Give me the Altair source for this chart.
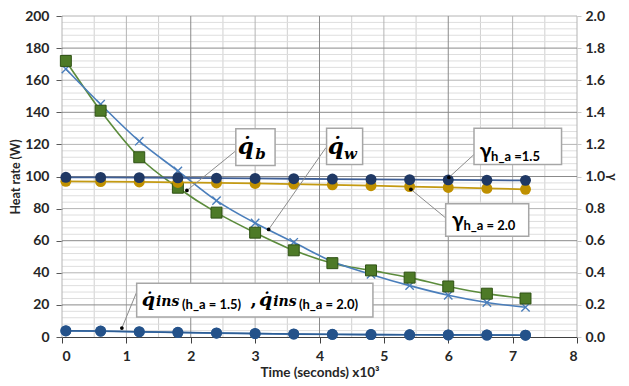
import altair as alt
import pandas as pd

# ---------------- data ----------------
time_k = [0.06, 0.6, 1.2, 1.8, 2.4, 3.0, 3.6, 4.2, 4.8, 5.4, 6.0, 6.6, 7.2]
q_b = [172, 141, 112, 93, 77.5, 65, 54, 46, 41.5, 37, 31.5, 27, 24]
q_w = [167, 145, 122, 103.5, 85, 71, 59, 47, 39, 32, 26, 21.5, 18.5]
q_ins_15 = [3.9, 3.7, 3.3, 2.9, 2.5, 2.2, 1.9, 1.7, 1.5, 1.4, 1.3, 1.2, 1.1]
q_ins_20 = [3.8, 3.6, 3.2, 2.8, 2.4, 2.1, 1.8, 1.6, 1.5, 1.4, 1.3, 1.2, 1.1]
gamma_15 = [0.995, 0.994, 0.993, 0.992, 0.99, 0.988, 0.986, 0.984, 0.982, 0.98, 0.979, 0.977, 0.976]
gamma_20 = [0.97, 0.968, 0.966, 0.963, 0.96, 0.957, 0.953, 0.948, 0.943, 0.937, 0.932, 0.926, 0.92]

x_ticks = [0, 1, 2, 3, 4, 5, 6, 7, 8]
y_left_ticks = [0, 20, 40, 60, 80, 100, 120, 140, 160, 180, 200]
y_right_ticks = [0, 0.2, 0.4, 0.6, 0.8, 1.0, 1.2, 1.4, 1.6, 1.8, 2.0]

# annotation anchors (data coordinates)
box_x1 = [2.70, 4.11, 6.40, 5.96, 1.16]
box_x2 = [3.31, 4.67, 7.76, 7.25, 4.83]
box_y1 = [106.8, 107.5, 107.5, 62.7, 12.4]
box_y2 = [129.8, 130.0, 130.0, 83.0, 33.5]
lead_x1 = [2.70, 4.10, 6.40, 5.95, 1.16]
lead_y1 = [116, 118, 113.7, 74.5, 28]
lead_x2 = [1.94, 3.21, 6.01, 5.42, 0.93]
lead_y2 = [91.3, 67, 99.4, 92, 5.6]

XD = [0, 8]
YL = [0, 200]
YR = [0, 2]
FONT = "Lato, Open Sans, sans-serif"
SERIF = "DejaVu Serif, serif"
X_TITLE = "Time (seconds) x10³"

xs = alt.Scale(domain=XD, nice=False, zero=False)
yls = alt.Scale(domain=YL, nice=False)
yrs = alt.Scale(domain=YR, nice=False)

x_axis = alt.Axis(values=x_ticks, format="d", grid=False, domainColor="#404040",
                  domainWidth=1.2, tickColor="#404040", tickSize=6,
                  labelFont=FONT, labelFontSize=14, labelFontWeight="bold",
                  labelColor="#262626", labelPadding=6,
                  titleFont=FONT, titleFontSize=13.5, titleFontWeight="bold",
                  titleColor="#262626", titlePadding=2)


def X(field):
    return alt.X(field, scale=xs, axis=x_axis, title=X_TITLE)


# ---------------- grid ----------------
vx_minor = [v / 2 for v in range(0, 17) if v % 2 == 1]
vx_mid = [0, 1, 3, 5, 7, 8]
vx_major = [2, 4, 6]
hy_minor = [v for v in range(0, 201, 4) if v % 20 != 0]
hy_mid = [40, 80, 120, 160, 200]
hy_major = [20, 60, 100, 140, 180]


def vgrid(vals, color):
    return alt.Chart(pd.DataFrame({"gx": vals})).mark_rule(color=color, strokeWidth=1).encode(
        x=X("gx:Q"))


def hgrid(vals, color):
    return alt.Chart(pd.DataFrame({"gy": vals})).mark_rule(color=color, strokeWidth=1).encode(
        y=alt.Y("gy:Q", scale=yls, axis=None))


# ---------------- series ----------------
df = pd.DataFrame({"t": time_k, "qb": q_b, "qw": q_w, "qi15": q_ins_15, "qi20": q_ins_20,
                   "g15": gamma_15, "g20": gamma_20})

left_axis = alt.Axis(values=y_left_ticks, orient="left", grid=False, domain=False,
                     tickColor="#595959", tickSize=6, labelFont=FONT, labelFontSize=14,
                     labelFontWeight="bold", labelColor="#262626", labelPadding=7,
                     titleFont=FONT, titleFontSize=12.5, titleFontWeight="bold",
                     titleColor="#262626", titlePadding=2)
right_axis = alt.Axis(values=y_right_ticks, format=".1f", orient="right", grid=False,
                      domain=False, tickColor="#c8c8c8", tickSize=4, labelFont=FONT,
                      labelFontSize=14, labelFontWeight="bold", labelColor="#262626",
                      labelPadding=4, titleFont=FONT, titleFontSize=13,
                      titleFontWeight="bold", titleColor="#262626", titlePadding=0)

base = alt.Chart(df)
green_line = base.mark_line(color="#5b8b3b", strokeWidth=1.6, interpolate="monotone").encode(
    x=X("t:Q"), y=alt.Y("qb:Q", scale=yls, axis=left_axis, title="Heat rate (W)"))
blue_line = base.mark_line(color="#4a7ebb", strokeWidth=1.6, interpolate="monotone").encode(
    x=X("t:Q"), y=alt.Y("qw:Q", scale=yls, axis=None))
green_pts = base.mark_point(shape="square", filled=True, size=120, color="#4d7a27",
                            stroke="#2f5214", strokeWidth=1, opacity=1).encode(
    x=X("t:Q"), y=alt.Y("qb:Q", scale=yls, axis=None))
blue_pts = base.mark_point(shape="M-1,-1L1,1M-1,1L1,-1", filled=False, size=70, color="#4a7ebb",
                           strokeWidth=1.4, opacity=1).encode(
    x=X("t:Q"), y=alt.Y("qw:Q", scale=yls, axis=None))
ins20_line = base.mark_line(color="#4a7ebb", strokeWidth=1.6).encode(
    x=X("t:Q"), y=alt.Y("qi20:Q", scale=yls, axis=None))
ins15_line = base.mark_line(color="#2e5e95", strokeWidth=1.6).encode(
    x=X("t:Q"), y=alt.Y("qi15:Q", scale=yls, axis=None))
ins20_pts = base.mark_circle(size=120, color="#2e5e95", opacity=1).encode(
    x=X("t:Q"), y=alt.Y("qi20:Q", scale=yls, axis=None))
ins15_pts = base.mark_circle(size=120, color="#24528a", opacity=1).encode(
    x=X("t:Q"), y=alt.Y("qi15:Q", scale=yls, axis=None))

gold_line = base.mark_line(color="#c49a12", strokeWidth=1.8).encode(
    x=X("t:Q"), y=alt.Y("g20:Q", scale=yrs, axis=right_axis, title="γ"))
gold_pts = base.mark_circle(size=120, color="#bf9000", opacity=1).encode(
    x=X("t:Q"), y=alt.Y("g20:Q", scale=yrs, axis=None))
navy_line = base.mark_line(color="#3f5f96", strokeWidth=1.8).encode(
    x=X("t:Q"), y=alt.Y("g15:Q", scale=yrs, axis=None))
navy_pts = base.mark_circle(size=120, color="#1f3864", opacity=1).encode(
    x=X("t:Q"), y=alt.Y("g15:Q", scale=yrs, axis=None))

# ---------------- annotations ----------------
boxes = pd.DataFrame({"x1": box_x1, "x2": box_x2, "y1": box_y1, "y2": box_y2})
leads = pd.DataFrame({"x1": lead_x1, "y1": lead_y1, "x2": lead_x2, "y2": lead_y2})

box_l = alt.Chart(boxes).mark_rect(fill="white", stroke="#a6a6a6", strokeWidth=1.5).encode(
    x=X("x1:Q"), x2="x2:Q",
    y=alt.Y("y1:Q", scale=yls, axis=None), y2="y2:Q")
lead_l = alt.Chart(leads).mark_rule(color="#8c8c8c", strokeWidth=1).encode(
    x=X("x1:Q"), x2="x2:Q",
    y=alt.Y("y1:Q", scale=yls, axis=None), y2="y2:Q")
arrow_l = alt.Chart(leads).mark_point(shape="circle", filled=True, size=14, color="#000000",
                                      opacity=1).encode(
    x=X("x2:Q"), y=alt.Y("y2:Q", scale=yls, axis=None))


def txt(labels, xs_, ys_, font, size, style, weight):
    d = pd.DataFrame({"lab": labels, "tx": xs_, "ty": ys_})
    return alt.Chart(d).mark_text(font=font, fontSize=size, fontStyle=style, fontWeight=weight,
                                  align="left", baseline="alphabetic", color="#000000").encode(
        x=X("tx:Q"), y=alt.Y("ty:Q", scale=yls, axis=None), text="lab:N")


QD = "q\u0307"
t_q_big = txt([QD, QD], [2.73, 4.13], [114.3, 114.3], SERIF, 23, "italic", "bold")
t_q_sub = txt(["b", "w"], [3.0, 4.38], [111.2, 111.2], SERIF, 15, "italic", "bold")
t_q_ins = txt([QD, QD], [1.24, 3.06], [19.25, 19.25], SERIF, 19, "italic", "bold")
t_ins = txt(["ins", "ins"], [1.46, 3.28], [19.25, 19.25], SERIF, 14, "italic", "bold")
t_comma = txt([","], [2.93], [19.25], SERIF, 18, "normal", "bold")
t_ha = txt(["(h_a = 1.5)", "(h_a = 2.0)"], [1.864, 3.68], [17.4, 17.4], FONT, 13, "normal", "bold")
t_gam = txt(["γ", "γ"], [6.49, 6.06], [111.8, 68.3], FONT, 21, "normal", "bold")
t_gsub = txt(["h_a =1.5", "h_a = 2.0"], [6.665, 6.235], [109.9, 66.5], FONT, 13, "normal", "bold")

layers = [
    vgrid(vx_minor, "#d0d0d0"), hgrid(hy_minor, "#dedede"),
    hgrid(hy_mid, "#b4b4b4"), vgrid(vx_mid, "#b4b4b4"),
    hgrid(hy_major, "#8a8a8a"), vgrid(vx_major, "#8a8a8a"),
    green_line, blue_line, ins20_line, ins15_line, blue_pts, green_pts, ins20_pts, ins15_pts,
    gold_line, navy_line, gold_pts, navy_pts,
    lead_l, arrow_l, box_l, t_q_big, t_q_sub, t_q_ins, t_ins, t_comma, t_ha, t_gam, t_gsub,
]

chart = alt.layer(*layers).resolve_scale(y="independent").properties(
    width=515, height=321,
    autosize=alt.AutoSizeParams(type="none"),
    padding={"left": 54, "top": 8, "right": 44, "bottom": 42},
    background="white",
).configure_view(stroke=None)

chart.save("out.html", embed_options={"renderer": "svg", "actions": False})
